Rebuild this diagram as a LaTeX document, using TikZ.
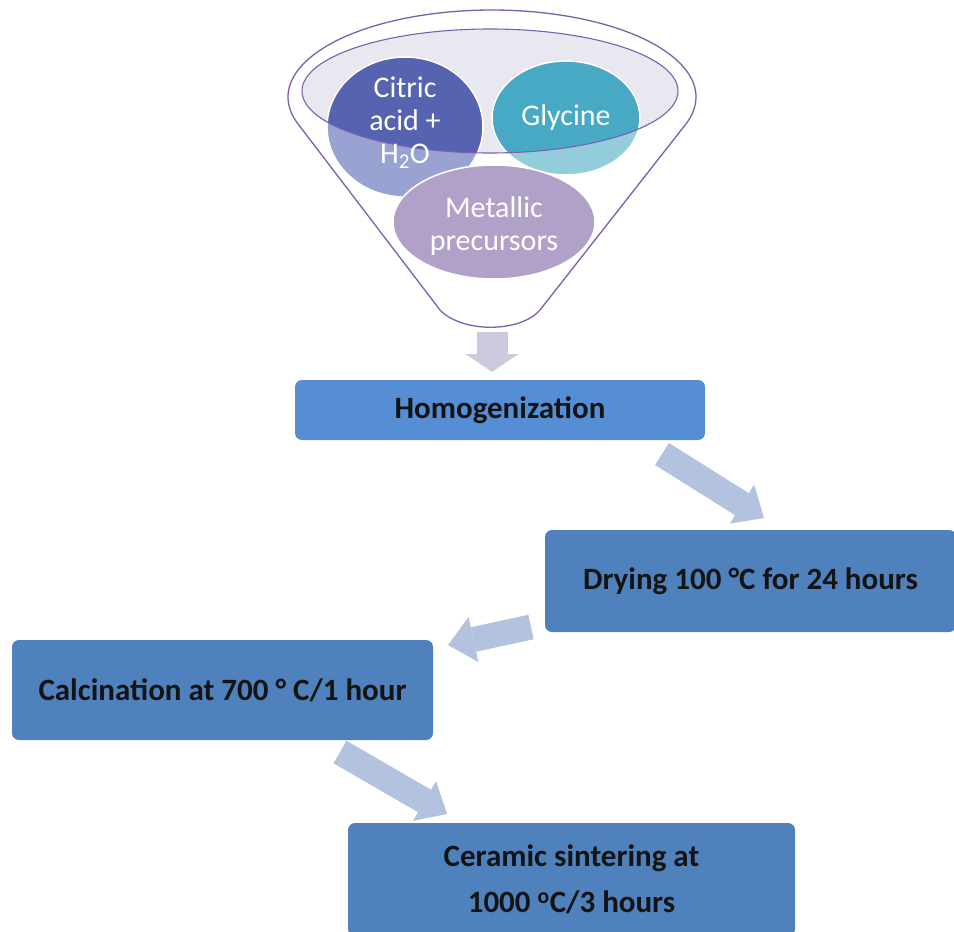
\documentclass[tikz,border=0pt]{standalone}
\usepackage{fontspec}
\setmainfont{Carlito}
\usetikzlibrary{arrows.meta}
\definecolor{boxblue}{HTML}{4F81BD}
\definecolor{homblue}{HTML}{558ED5}
\definecolor{arrblue}{HTML}{B3C3DF}
\definecolor{arrlav}{HTML}{CDC9DF}
\definecolor{funline}{HTML}{7E5FAE}
\definecolor{funfill}{HTML}{E9E7F0}
\definecolor{citdark}{HTML}{5563B0}
\definecolor{citlight}{HTML}{98A3D2}
\definecolor{glydark}{HTML}{48A9C5}
\definecolor{glylight}{HTML}{93CDDC}
\definecolor{metcol}{HTML}{B1A1C9}
\definecolor{txtdark}{HTML}{141414}
\tikzset{
  stepbox/.style={rounded corners=7pt, fill=boxblue, draw=none, text=txtdark,
    font=\fontsize{31}{36}\selectfont\bfseries, align=center, inner sep=0pt},
  funtext/.style={text=white, font=\fontsize{30}{33}\selectfont, align=center, inner sep=0pt},
  blockarrow/.style={draw=arrblue, line width=26pt,
    -{Triangle[length=26pt, width=46pt, line width=0pt, fill=arrblue]}},
}
\begin{document}
\begin{tikzpicture}[x=1pt,y=-1pt]
\path[use as bounding box] (0,0) rectangle (954,932);
\clip (0,0) rectangle (954,932);
\fill[white] (0,0) rectangle (954,932);

% funnel inner ellipse
\fill[funfill] (490,91) ellipse [x radius=188, y radius=62];
% circles (light parts)
\fill[citlight, draw=white, line width=1.5pt] (405,127) ellipse [x radius=78, y radius=70];
\fill[glylight, draw=white, line width=1.5pt] (566,118) ellipse [x radius=74, y radius=57];
\begin{scope}
  \clip (490,91) ellipse [x radius=188, y radius=62];
  \fill[citdark] (405,127) ellipse [x radius=77, y radius=69];
  \fill[glydark] (566,118) ellipse [x radius=73, y radius=56];
\end{scope}
\fill[metcol, draw=white, line width=1.5pt] (494,222) ellipse [x radius=101, y radius=57];

% outlines
\draw[funline, line width=1.1pt] (490,91) ellipse [x radius=188, y radius=62];
\draw[funline, line width=1.3pt, line join=round]
  plot[domain=198:-18, samples=100] ({492+204*cos(\x)}, {97-87*sin(\x)})
  -- (540,310) .. controls (520,333) and (462,333) .. (440,310) -- cycle;

% funnel texts
\node[funtext] (cit) at (405,123) {Citric\\acid +\\H\textsubscript{2}O};
\node[funtext] (gly) at (566,117) {Glycine};
\node[funtext] (met) at (494,226) {Metallic\\precursors};

% boxes
\node[stepbox, fill=homblue, minimum width=410pt, minimum height=60pt] (hom) at (500,410) {Homogenization};
\node[stepbox, minimum width=411pt, minimum height=102pt] (dry) at (750.5,581) {Drying 100 °C for 24 hours};
\node[stepbox, minimum width=421pt, minimum height=100pt] (cal) at (222.5,690) {Calcination at 700 ° C/1 hour};
\node[stepbox, minimum width=447pt, minimum height=113pt, font=\fontsize{31}{46}\selectfont\bfseries] (cer) at (571.5,879.5) {Ceramic sintering at\\1000 \textsuperscript{o}C/3 hours};

% arrows
\coordinate (a0s) at (492,332);
\coordinate (a0e) at (492,372);
\coordinate (a1s) at (662,454);
\coordinate (a1e) at (764,518);
\coordinate (a2s) at (531,627);
\coordinate (a2e) at (448,645);
\coordinate (a3s) at (340,752);
\coordinate (a3e) at (447,814);
\draw[draw=arrlav, line width=31pt, -{Triangle[length=18pt, width=53pt, line width=0pt, fill=arrlav]}] (a0s) -- (a0e);
\draw[blockarrow] (a1s) -- (a1e);
\draw[blockarrow, line width=25pt] (a2s) -- (a2e);
\draw[blockarrow] (a3s) -- (a3e);
\end{tikzpicture}
\end{document}
